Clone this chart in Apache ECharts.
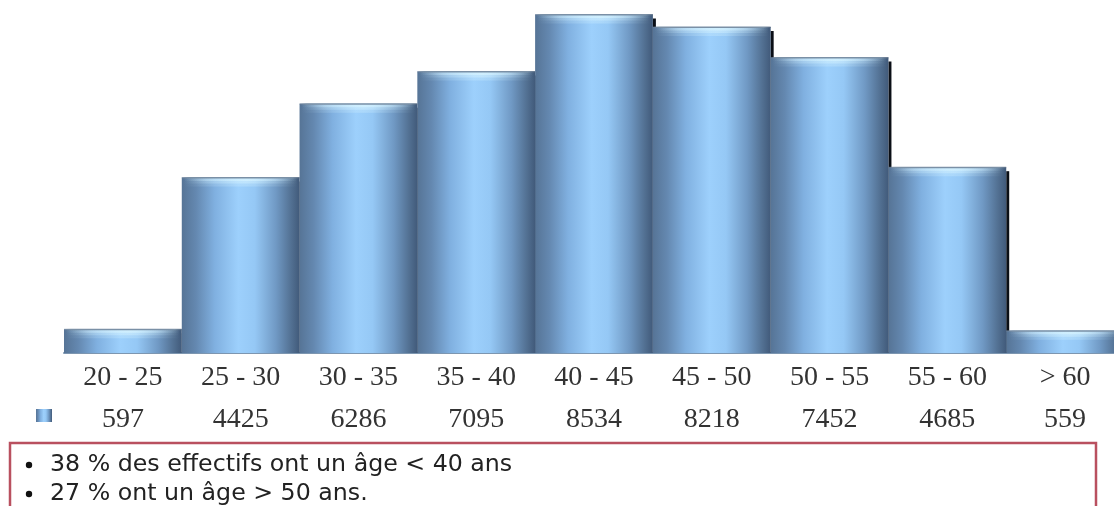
<!DOCTYPE html>
<html><head><meta charset="utf-8">
<style>html,body{margin:0;padding:0;background:#fff;overflow:hidden}#c{width:1114px;height:506px}</style>
<script src="https://cdn.jsdelivr.net/npm/echarts@6/dist/echarts.min.js"></script>
</head><body><div id="c"></div>
<script>
const categories = ['20 - 25','25 - 30','30 - 35','35 - 40','40 - 45','45 - 50','50 - 55','55 - 60','> 60'];
const values = [597,4425,6286,7095,8534,8218,7452,4685,559];
const notes = ['38 % des effectifs ont un âge < 40 ans','27 % ont un âge > 50 ans.'];
const seriesName = 'Effectifs';

const barGrad = {type:'linear',x:0,y:0,x2:1,y2:0,colorStops:[
  {offset:0,color:'#567496'},{offset:.12,color:'#6488b0'},{offset:.28,color:'#80b0e0'},
  {offset:.48,color:'#9dd0fc'},{offset:.62,color:'#95c8f5'},{offset:.8,color:'#7099c4'},
  {offset:.93,color:'#527092'},{offset:1,color:'#415a7a'}]};
const capLayer = a => ({type:'linear',x:0,y:0,x2:1,y2:0,colorStops:[
  {offset:0,color:'rgba(214,243,255,0)'},{offset:.2,color:`rgba(214,243,255,${a*.5})`},
  {offset:.55,color:`rgba(214,243,255,${a})`},{offset:.8,color:`rgba(214,243,255,${a*.5})`},{offset:1,color:'rgba(214,243,255,0)'}]});
const edgeGrad = {type:'linear',x:0,y:0,x2:1,y2:0,colorStops:[
  {offset:0,color:'rgba(105,125,150,0.5)'},{offset:.06,color:'#7a90a6'},{offset:.94,color:'#7a90a6'},{offset:1,color:'rgba(80,100,125,0.7)'}]};

const chart = echarts.init(document.getElementById('c'),null,{renderer:'canvas'});
chart.setOption({
  animation:false,
  backgroundColor:'#fff',
  grid:{left:64,top:0,bottom:153,width:1060,containLabel:false,outerBoundsMode:'none'},
  legend:{show:true,left:36,top:409,itemWidth:16,itemHeight:13,formatter:()=>'',
    data:[{name:seriesName,icon:'rect',itemStyle:{color:barGrad}}],selectedMode:false,padding:0},
  xAxis:{type:'category',data:categories,boundaryGap:true,
    axisLine:{show:true,lineStyle:{color:'#7d96b0',width:2}},axisTick:{show:false},
    axisLabel:{interval:0,margin:4,
      formatter:(v,i)=>`{a|${v}}\n{b|${values[i]}}`,
      rich:{a:{fontFamily:'Liberation Serif',fontSize:28,color:'#333',lineHeight:42,align:'center'},
            b:{fontFamily:'Liberation Serif',fontSize:28,color:'#333',lineHeight:42,align:'center'}}}},
  yAxis:{type:'value',min:0,max:8900,show:false,splitLine:{show:false}},
  series:[
    {type:'custom',name:'shadow',z:1,clip:true,data:values,
     renderItem:(p,api)=>{
       const top=api.coord([p.dataIndex,api.value(1)]);
       const w=api.size([1,0])[0];const base=api.coord([p.dataIndex,0])[1];
       return {type:'rect',shape:{x:top[0]+w/2,y:top[1]+4,width:3,height:base-top[1]-4},style:{fill:'#0b0f16'}};
     },encode:{x:0,y:1}},
    {type:'bar',name:seriesName,z:2,data:values,barWidth:'100%',itemStyle:{color:barGrad}},
    {type:'custom',name:'cap',z:3,clip:true,data:values,
     renderItem:(p,api)=>{
       const top=api.coord([p.dataIndex,api.value(1)]);
       const w=api.size([1,0])[0];const x=top[0]-w/2;
       return {type:'group',children:[
         {type:'rect',shape:{x:x+2,y:top[1],width:w-4,height:9},style:{fill:capLayer(.3)}},
         {type:'rect',shape:{x:x+2,y:top[1],width:w-4,height:6},style:{fill:capLayer(.45)}},
         {type:'rect',shape:{x:x+2,y:top[1],width:w-4,height:3.5},style:{fill:capLayer(.7)}},
         {type:'rect',shape:{x:x,y:top[1]-0.5,width:w,height:1.5},style:{fill:edgeGrad}}
       ]};
     },encode:{x:0,y:1}}
  ],
  graphic:[
    {type:'rect',z:10,shape:{x:10,y:443,width:1086,height:80},style:{fill:'#fff',stroke:'#b9505f',lineWidth:2.5}},
    {type:'circle',z:11,shape:{cx:29,cy:465,r:3.2},style:{fill:'#111'}},
    {type:'circle',z:11,shape:{cx:29,cy:494,r:3.2},style:{fill:'#111'}},
    {type:'text',z:11,x:50,y:465,style:{text:notes[0],font:'23.7px "DejaVu Sans"',fill:'#222',verticalAlign:'middle'}},
    {type:'text',z:11,x:50,y:494,style:{text:notes[1],font:'23.7px "DejaVu Sans"',fill:'#222',verticalAlign:'middle'}}
  ]
});
</script></body></html>
